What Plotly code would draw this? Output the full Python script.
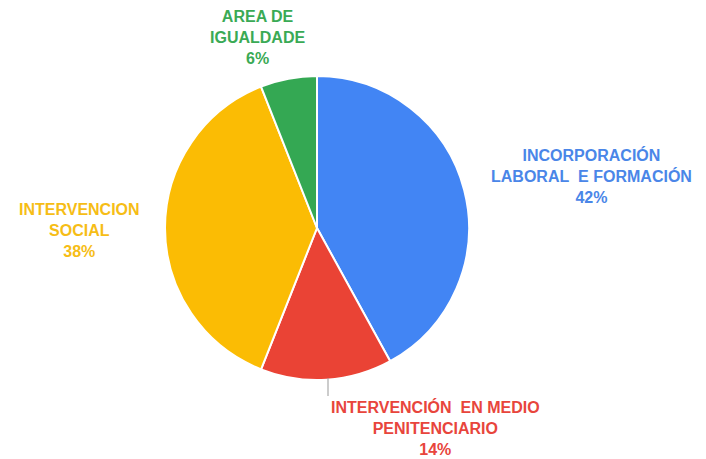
import plotly.graph_objects as go

categories = ["INCORPORACIÓN<br>LABORAL\u00a0\u00a0E FORMACIÓN",
              "INTERVENCIÓN\u00a0\u00a0EN MEDIO<br>PENITENCIARIO",
              "INTERVENCION<br>SOCIAL",
              "AREA DE<br>IGUALDADE"]
values = [42, 14, 38, 6]
colors = ["#4285F4", "#EA4335", "#FBBC04", "#34A853"]
text_colors = ["#4A86E8", "#E8453C", "#F6BD16", "#3AAA55"]

W, H = 706, 459
OFF = 8  # page body margin
def fx(px):
    return (px - OFF) / W
def fy(py):
    return 1 - (py - OFF) / H

cx, cy, r = 317, 228, 152
fig = go.Figure(go.Pie(
    labels=categories, values=values, sort=False, direction="clockwise",
    rotation=0, textinfo="none", hoverinfo="label+percent",
    marker=dict(colors=colors, line=dict(color="white", width=2)),
    domain=dict(x=[fx(cx - r), fx(cx + r)], y=[fy(cy + r), fy(cy - r)]),
    showlegend=False,
))

# label positions in pixels (center x, center y of the text block)
label_pos = [(591, 176), (435, 428), (79, 230), (257, 38)]
total = sum(values)
annotations = []
for cat, v, c, (px, py) in zip(categories, values, text_colors, label_pos):
    annotations.append(dict(
        x=fx(px), y=fy(py), xref="paper", yref="paper",
        text=f"<b>{cat}<br>{round(v*100/total)}%</b>", showarrow=False,
        font=dict(family="Liberation Sans, Arial", size=16, color=c),
        align="center", xanchor="center", yanchor="middle",
    ))

fig.update_layout(
    width=W, height=H, margin=dict(l=0, r=0, t=0, b=0),
    paper_bgcolor="white", plot_bgcolor="white",
    annotations=annotations,
    shapes=[dict(type="line", xref="paper", yref="paper",
                 x0=fx(328), x1=fx(328), y0=fy(378), y1=fy(396),
                 line=dict(color="#999999", width=1))],
)
fig.write_html("out.html")
